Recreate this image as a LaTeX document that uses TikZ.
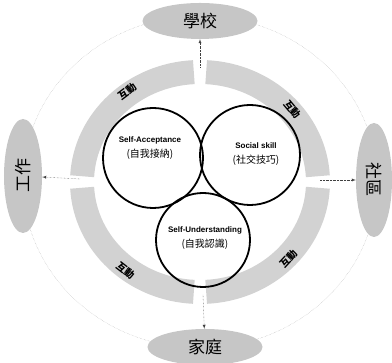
\documentclass[tikz,border=0pt]{standalone}
\usepackage{fontspec}
\setsansfont{Liberation Sans}
\newfontfamily\cjk{Noto Sans CJK TC}
\usepackage{tikz}
\usetikzlibrary{calc, shapes.geometric, positioning}

\begin{document}
\begin{tikzpicture}[>=latex, x=1pt, y=1pt,
    place/.style={ellipse, fill=gray!45, minimum width=115pt, minimum height=36pt,
      inner sep=0pt, font=\cjk\fontsize{17}{17}\selectfont},
    part/.style={circle, draw=black, line width=1.8pt, minimum size=100pt, inner sep=0pt},
    parttext/.style={align=center, font=\sffamily\bfseries\fontsize{8}{11}\selectfont},
    band/.style={gray!35, line width=24pt},
    link/.style={->, densely dotted, gray!50!black},
    tag/.style={font=\cjk\bfseries\fontsize{10}{10}\selectfont}]
    \useasboundingbox (0,0) rectangle (392,363);

    % 1. Vòng ngoài chấm mờ
    \coordinate (ring) at (200,181);
    \draw[densely dotted, gray!60] (ring) ellipse [x radius=177, y radius=166];

    % 2. Bốn môi trường
    \node[place] (school) at (200,342) {學校};
    \node[place] (home) at (205,16) {家庭};
    \node[place, rotate=90, minimum width=114pt, minimum height=38pt] (work) at (23,187) {工作};
    \node[place, rotate=-90, minimum width=114pt, minimum height=36pt] (community) at (374,183) {社區};

    % 3. Vành xám chia bốn cung
    \foreach \a in {0,90,180,270}
      \draw[band] ($(ring)+(\a+3:118 and 110)$)
        arc[start angle=\a+3, end angle=\a+87, x radius=118, y radius=110];

    % Nhãn trên các cung
    \node[tag, rotate=37] (tagNW) at ($(ring)+(127:121 and 113)$) {互動};
    \node[tag, rotate=-50] (tagNE) at ($(ring)+(40:121 and 113)$) {互動};
    \node[tag, rotate=-38] (tagSW) at ($(ring)+(232:121 and 113)$) {互動};
    \node[tag, rotate=47] (tagSE) at ($(ring)+(-43:121 and 113)$) {互動};

    % 4. Mũi tên từ vành ra ngoài
    \coordinate (ringN) at (200,296);
    \coordinate (ringS) at (203,68);
    \coordinate (ringW) at (80,184);
    \coordinate (ringE) at (320,183);
    \draw[link] (ringN) -- (school);
    \draw[link] (ringS) -- (home);
    \draw[link] (ringW) -- (work);
    \draw[link] (ringE) -- (community);

    % 5. Ba vòng tròn bên trong
    \node[part] (accept) at (153,205) {};
    \node[part] (social) at (250,208) {};
    \node[part, minimum size=94pt] (underst) at (203,123) {};

    \node[parttext] (acceptTxt) at (150,215)
      {Self-Acceptance\\[4pt]{\cjk\mdseries\fontsize{10}{10}\selectfont (自我接納)}};
    \node[parttext] (socialTxt) at (256,209)
      {Social skill\\[4pt]{\cjk\mdseries\fontsize{10}{10}\selectfont (社交技巧)}};
    \node[parttext] (understTxt) at (205,125)
      {Self-Understanding\\[4pt]{\cjk\mdseries\fontsize{10}{10}\selectfont (自我認識)}};

\end{tikzpicture}
\end{document}
